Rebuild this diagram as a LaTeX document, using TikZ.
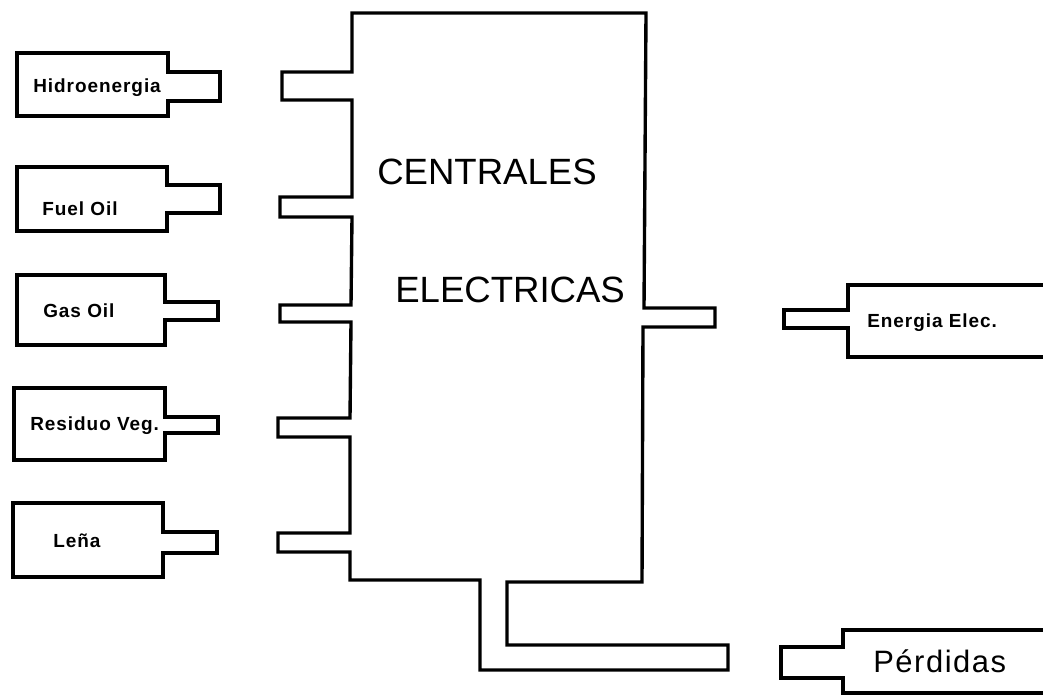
\documentclass[tikz,border=0pt]{standalone}
\usepackage{fontspec}
\setmainfont{Liberation Sans}
\newfontfamily\labelfont[LetterSpace=5]{Liberation Sans}
\usetikzlibrary{positioning}

\begin{document}
\begin{tikzpicture}[
  x=0.025cm,
  y=-0.025cm,
  outline/.style={
    draw=black,
    line width=2.4pt,
    line join=miter
  },
  source label/.style={
    font=\labelfont\bfseries\fontsize{13.5}{15}\selectfont,
    anchor=base west,
    inner sep=0pt
  },
  plant title/.style={
    font=\fontsize{26}{30}\selectfont,
    anchor=base west,
    inner sep=0pt
  },
  loss label/.style={
    font=\labelfont\fontsize{22}{26}\selectfont,
    anchor=base west,
    inner sep=0pt
  }
]
  \useasboundingbox (0,0) rectangle (1043,695);

  % fuentes primarias
  \foreach \xl/\xr/\ya/\yb/\ua/\ub/\xt in {
      17/168/53/116/72/101/220,
      17/167/167/231/185/213/220,
      17/165/275/345/302/320/218,
      14/165/388/460/417/433/218,
      13/163/503/577/532/553/217}
    \draw[outline] (\xl,\ya) -- (\xr,\ya) -- (\xr,\ua) -- (\xt,\ua)
      -- (\xt,\ub) -- (\xr,\ub) -- (\xr,\yb) -- (\xl,\yb) -- cycle;

  \node[source label] (hidro) at (33,93) {Hidroenergia};
  \node[source label] (fuel) at (42,216) {Fuel Oil};
  \node[source label] (gas) at (43,317) {Gas Oil};
  \node[source label] (residuo) at (30,430) {Residuo Veg.};
  \node[source label] (lena) at (53,547) {Leña};

  % centrales
  \draw[outline] (352,13) -- (646,13) -- (644,308) -- (715,308) -- (715,327)
    -- (643,327) -- (642,582) -- (507,582) -- (507,645) -- (728,645)
    -- (728,670) -- (480,670) -- (480,580) -- (350,580) -- (350,552)
    -- (278,552) -- (278,533) -- (350,533) -- (350,437) -- (278,437)
    -- (278,418) -- (350,418) -- (351,322) -- (280,322) -- (280,305)
    -- (351,305) -- (352,217) -- (280,217) -- (280,197) -- (352,197)
    -- (352,100) -- (282,100) -- (282,72) -- (352,72) -- cycle;

  \node[plant title] (centrales) at (377,185) {CENTRALES};
  \node[plant title] (electricas) at (395,302) {ELECTRICAS};

  % salidas
  \draw[outline] (1043,285) -- (848,285) -- (848,310) -- (784,310)
    -- (784,328) -- (848,328) -- (848,357) -- (1043,357);
  \node[source label] (energia) at (867,327) {Energia Elec.};

  \draw[outline] (1043,630) -- (843,630) -- (843,647) -- (781,647)
    -- (781,678) -- (843,678) -- (843,693) -- (1043,693);
  \node[loss label] (perdidas) at (873,672) {Pérdidas};
\end{tikzpicture}
\end{document}
